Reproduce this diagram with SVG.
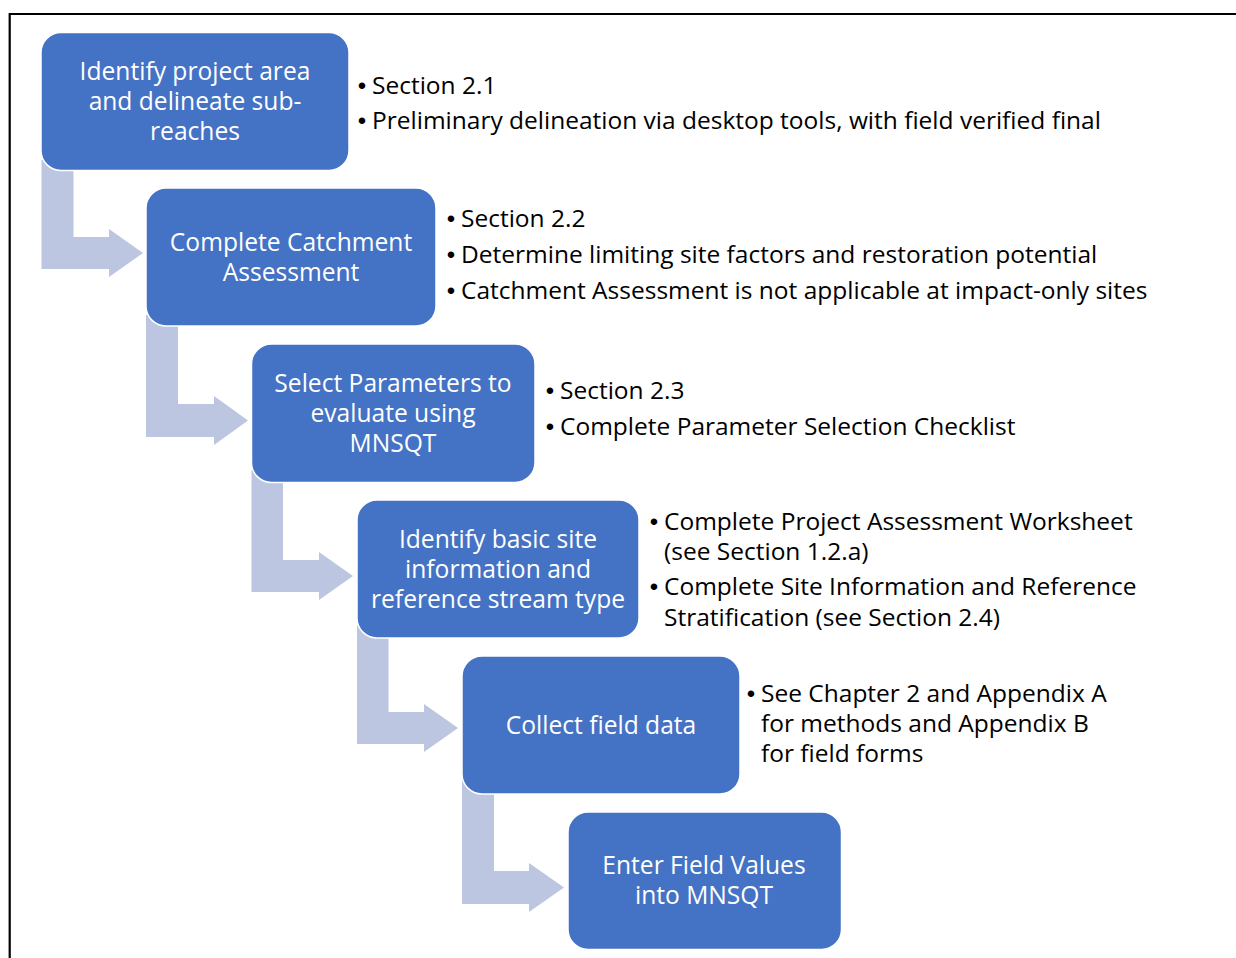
<svg xmlns="http://www.w3.org/2000/svg" width="1236" height="958" viewBox="0 0 1236 958">
<style>
.box{fill:#4472C4;stroke:#ffffff;stroke-width:1.5}
.arr{fill:#BDC6E1}
.bt{font-family:"Open Sans","Liberation Sans",sans-serif;font-size:24.6px;fill:#ffffff;text-anchor:middle}
.tx{font-family:"Open Sans","Liberation Sans",sans-serif;font-size:24.5px;fill:#000000}
.bu{font-family:"Liberation Sans",sans-serif;font-size:24px;fill:#000000;text-anchor:middle}
.frame{fill:none;stroke:#000000;stroke-width:2.2}
</style>
<rect width="1236" height="958" fill="#ffffff"/>
<path class="frame" d="M9.7,962 L9.7,14 L1240,14"/>
<g id="connectors">
<path class="arr" d="M41.5,160 L73.5,160 L73.5,237 L109,237 L109,229 L143,253 L109,277 L109,269 L41.5,269 Z"/>
<path class="arr" d="M146,315 L178,315 L178,404 L214,404 L214,396 L248,420.5 L214,445 L214,437 L146,437 Z"/>
<path class="arr" d="M251.5,470 L283,470 L283,560 L319,560 L319,552 L353,576 L319,600 L319,592 L251.5,592 Z"/>
<path class="arr" d="M357,625 L388.5,625 L388.5,712 L424,712 L424,704 L458,728 L424,752 L424,744 L357,744 Z"/>
<path class="arr" d="M462,780 L494,780 L494,871 L529,871 L529,863 L564,887.5 L529,912 L529,904 L462,904 Z"/>
</g>
<g id="node1">
<rect class="box" x="41" y="32.5" width="308" height="138" rx="20"/>
<text class="bt" x="195" y="80">Identify project area</text>
<text class="bt" x="195" y="110">and delineate sub-</text>
<text class="bt" x="195" y="140">reaches</text>
<text class="bu" x="362" y="94">•</text><text class="tx" x="372" y="94">Section 2.1</text>
<text class="bu" x="362" y="129">•</text><text class="tx" x="372" y="129">Preliminary delineation via desktop tools, with field verified final</text>
</g>
<g id="node2">
<rect class="box" x="146" y="188" width="290" height="138" rx="20"/>
<text class="bt" x="291" y="251">Complete Catchment</text>
<text class="bt" x="291" y="281">Assessment</text>
<text class="bu" x="451" y="227">•</text><text class="tx" x="461" y="227">Section 2.2</text>
<text class="bu" x="451" y="263">•</text><text class="tx" x="461" y="263">Determine limiting site factors and restoration potential</text>
<text class="bu" x="451" y="299">•</text><text class="tx" x="461" y="299">Catchment Assessment is not applicable at impact-only sites</text>
</g>
<g id="node3">
<rect class="box" x="251.5" y="344" width="283.5" height="138.5" rx="20"/>
<text class="bt" x="393" y="392">Select Parameters to</text>
<text class="bt" x="393" y="422">evaluate using</text>
<text class="bt" x="393" y="452">MNSQT</text>
<text class="bu" x="550" y="399">•</text><text class="tx" x="560" y="399">Section 2.3</text>
<text class="bu" x="550" y="435">•</text><text class="tx" x="560" y="435">Complete Parameter Selection Checklist</text>
</g>
<g id="node4">
<rect class="box" x="357" y="500" width="282" height="138" rx="20"/>
<text class="bt" x="498" y="548">Identify basic site</text>
<text class="bt" x="498" y="578">information and</text>
<text class="bt" x="498" y="608">reference stream type</text>
<text class="bu" x="654" y="530">•</text><text class="tx" x="664" y="530">Complete Project Assessment Worksheet</text>
<text class="tx" x="664" y="560">(see Section 1.2.a)</text>
<text class="bu" x="654" y="595">•</text><text class="tx" x="664" y="595">Complete Site Information and Reference</text>
<text class="tx" x="664" y="626">Stratification (see Section 2.4)</text>
</g>
<g id="node5">
<rect class="box" x="462" y="656" width="278" height="138" rx="20"/>
<text class="bt" x="601" y="734">Collect field data</text>
<text class="bu" x="751" y="702">•</text><text class="tx" x="761" y="702">See Chapter 2 and Appendix A</text>
<text class="tx" x="761" y="732">for methods and Appendix B</text>
<text class="tx" x="761" y="762">for field forms</text>
</g>
<g id="node6">
<rect class="box" x="568" y="812" width="273.5" height="137.5" rx="20"/>
<text class="bt" x="704" y="874">Enter Field Values</text>
<text class="bt" x="704" y="904">into MNSQT</text>
</g>
</svg>
